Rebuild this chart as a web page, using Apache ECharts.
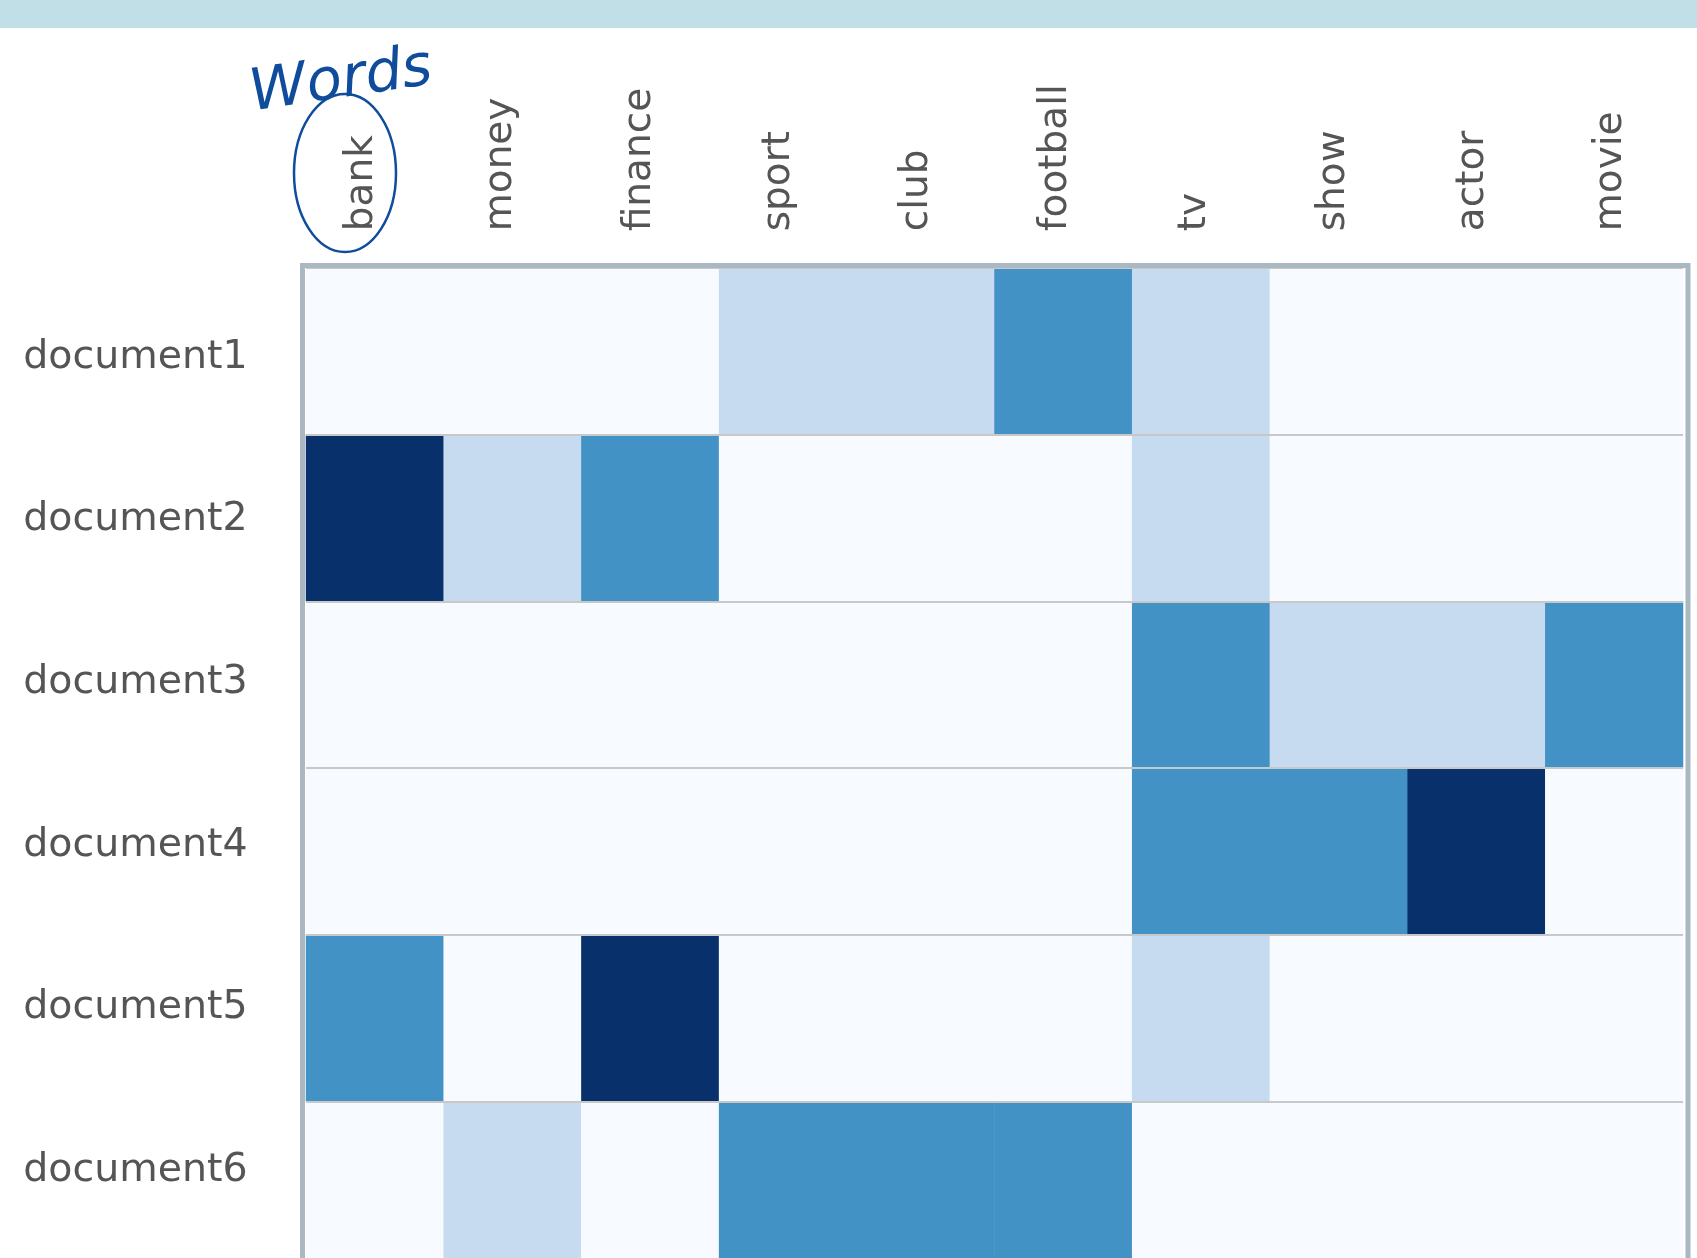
<!DOCTYPE html>
<html>
<head>
<meta charset="utf-8">
<script src="https://cdn.jsdelivr.net/npm/echarts@6/dist/echarts.min.js"></script>
<style>
html,body{margin:0;padding:0;background:#fff;}
#chart{width:1697px;height:1258px;}
</style>
</head>
<body>
<div id="chart"></div>
<script>
const words = ['bank','money','finance','sport','club','football','tv','show','actor','movie'];
const documents = ['document1','document2','document3','document4','document5','document6'];
const doc1 = [0,0,0,1,1,2,1,0,0,0];
const doc2 = [3,1,2,0,0,0,1,0,0,0];
const doc3 = [0,0,0,0,0,0,2,1,1,2];
const doc4 = [0,0,0,0,0,0,2,2,3,0];
const doc5 = [2,0,3,0,0,0,1,0,0,0];
const doc6 = [0,1,0,2,2,2,0,0,0,0];
const rows = [doc1,doc2,doc3,doc4,doc5,doc6];
const levelColors = ['#f7fbff','#c6dbef','#4292c6','#08306b'];

const data = [];
rows.forEach((r, yi) => r.forEach((v, xi) => data.push([xi, yi, v])));

const chart = echarts.init(document.getElementById('chart'), null, {renderer:'canvas'});
const font = "'DejaVu Sans', Verdana, sans-serif";
chart.setOption({
  animation:false,
  backgroundColor:'#ffffff',
  grid:[
    {left:306, top:268, width:1377, height:1000, containLabel:false, outerBoundsMode:'none'},
    {left:292.6, top:276.2, width:1388, height:975.5, containLabel:false, outerBoundsMode:'none', show:false}
  ],
  xAxis:[
    {type:'category', data:words, position:'top', gridIndex:0,
     axisLine:{show:false}, axisTick:{show:false}, splitLine:{show:false}, axisLabel:{show:false}},
    {type:'category', data:words, position:'top', gridIndex:1,
     axisLine:{show:false}, axisTick:{show:false}, splitLine:{show:false},
     axisLabel:{rotate:-90, margin:45, fontSize:39, color:'#555555', fontFamily:font}}
  ],
  yAxis:[
    {type:'category', data:documents, inverse:true, z:5, gridIndex:0,
     axisLine:{show:false}, axisTick:{show:false},
     splitLine:{show:true, lineStyle:{color:'#c8c8c8', width:2}},
     axisLabel:{show:false}},
    {type:'category', data:documents, inverse:true, gridIndex:1,
     axisLine:{show:false}, axisTick:{show:false}, splitLine:{show:false},
     axisLabel:{margin:45, fontSize:39.5, color:'#555555', fontFamily:font}}
  ],
  visualMap:{
    type:'piecewise', show:false, dimension:2, seriesIndex:0,
    pieces:[
      {value:0, color:levelColors[0]},
      {value:1, color:levelColors[1]},
      {value:2, color:levelColors[2]},
      {value:3, color:levelColors[3]}
    ]
  },
  series:[{
    type:'heatmap', data:data, xAxisIndex:0, yAxisIndex:0,
    itemStyle:{borderWidth:0},
    emphasis:{disabled:true}
  }],
  graphic:[
    {type:'rect', left:0, top:0, shape:{x:0,y:0,width:1697,height:28}, style:{fill:'#c1dfe6'}, z:10},
    {type:'rect', shape:{x:302.5,y:265.5,width:1385.5,height:1100}, style:{fill:null, stroke:'#aab8c2', lineWidth:5}, z:10},
    {type:'ellipse', shape:{cx:345, cy:173, rx:51, ry:79}, style:{fill:null, stroke:'#0f4c9c', lineWidth:2.5}, z:11},
    {type:'text', x:246, y:67, rotation:0.15, style:{x:0, y:0, text:'Words', textBaseline:'alphabetic', fill:'#0f4c9c', font:"italic 300 58px 'DejaVu Sans', sans-serif"}, z:11}
  ]
});
</script>
</body>
</html>
